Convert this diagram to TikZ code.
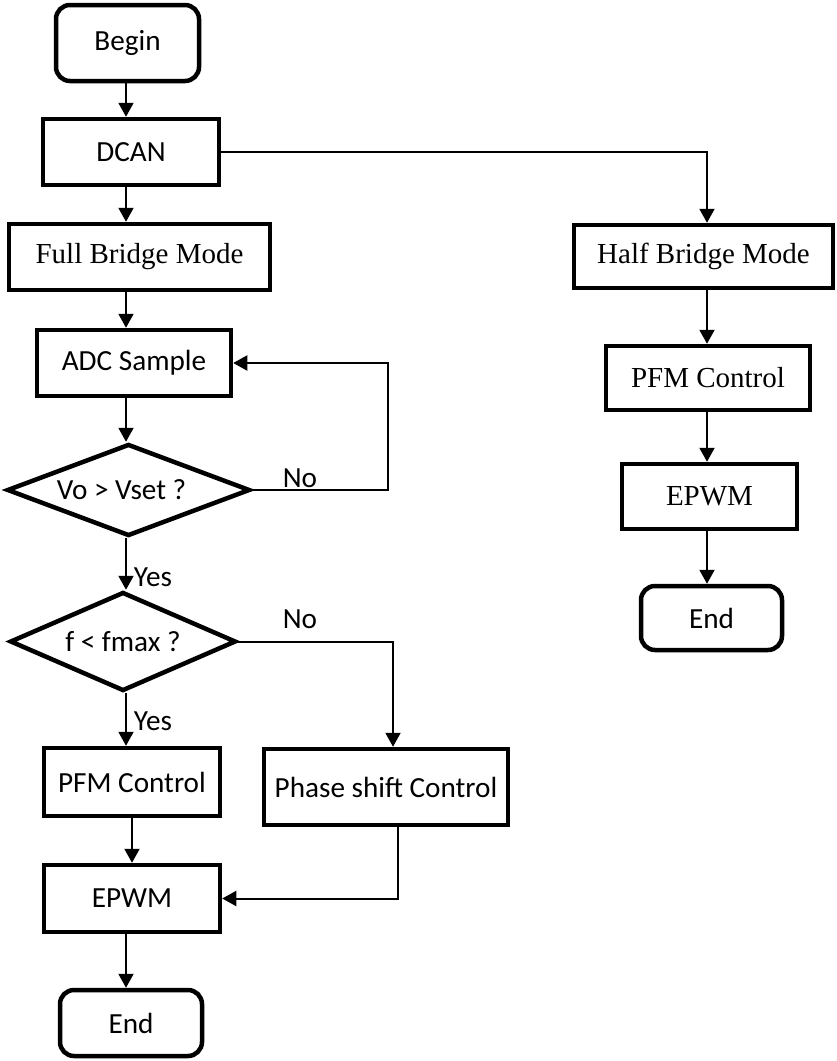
\documentclass[tikz,border=0pt]{standalone}
\usepackage{fontspec}
\setmainfont{Carlito}
\newfontfamily\timesf{Liberation Serif}
\usetikzlibrary{arrows.meta,shapes.geometric}
\begin{document}
\begin{tikzpicture}[x=1pt,y=-1pt,
  box/.style={draw,line width=4.5pt,rectangle,inner sep=0pt,font=\fontsize{29.2}{31}\selectfont},
  tbox/.style={box,font=\timesf\fontsize{29}{31}\selectfont},
  term/.style={box,rounded corners=14pt},
  dec/.style={draw,line width=4.5pt,diamond,inner sep=0pt,font=\fontsize{29.2}{31}\selectfont},
  conn/.style={line width=2pt,-{Triangle[length=14pt,width=15pt]}},
  lbl/.style={font=\fontsize{29.2}{31}\selectfont,inner sep=0pt}]
\useasboundingbox (0,0) rectangle (836,1061);
% left column
\node[term,minimum width=143,minimum height=76] (begin) at (127.5,43) {Begin};
\node[box,minimum width=176,minimum height=66] (dcan) at (131,152) {DCAN};
\node[tbox,minimum width=261,minimum height=66] (fb) at (139.5,257) {Full Bridge Mode};
\node[box,minimum width=194,minimum height=66] (adc) at (134,363) {ADC Sample};
\node[dec,aspect=2.57,minimum width=243,minimum height=92] (d1) at (128.5,490) {\hspace*{-14pt}Vo > Vset ?};
\node[dec,aspect=2.23,minimum width=226,minimum height=99] (d2) at (123,641.5) {f < fmax ?};
\node[box,minimum width=176,minimum height=68] (pfm) at (132,782) {PFM Control};
\node[box,minimum width=244,minimum height=76] (ps) at (386,787) {Phase shift Control};
\node[box,minimum width=176,minimum height=67] (epwm) at (132,898.5) {EPWM};
\node[term,minimum width=142,minimum height=66] (end) at (131,1023) {End};
% right column
\node[tbox,minimum width=259,minimum height=63] (hb) at (703.5,256.5) {Half Bridge Mode};
\node[tbox,minimum width=204,minimum height=64] (pfm2) at (708,378) {PFM Control};
\node[tbox,minimum width=175,minimum height=65] (epwm2) at (709.5,496.5) {EPWM};
\node[term,minimum width=141,minimum height=64] (end2) at (711.5,618) {End};
% helper coordinates
\coordinate (col) at (126,0);
\coordinate (rcol) at (707,0);
\coordinate (lp) at (388,0);
\coordinate (nx) at (393,0);
\coordinate (px) at (398,0);
% connectors
\draw[conn] (begin.south -| col) -- (dcan.north -| col);
\draw[conn] (dcan.south -| col) -- (fb.north -| col);
\draw[conn] (fb.south -| col) -- (adc.north -| col);
\draw[conn] (adc.south -| col) -- (d1.north -| col);
\draw[conn] (d1.south -| col) -- (d2.north -| col);
\draw[conn] (d2.south -| col) -- (pfm.north -| col);
\draw[conn] (pfm.south) -- (epwm.north);
\draw[conn] (epwm.south -| col) -- (end.north -| col);
\draw[conn] (d1.east) -- (d1.east -| lp) |- (adc.east);
\draw[conn] (d2.east) -- (d2.east -| nx) -- (nx |- ps.north);
\draw[conn] (ps.south -| px) |- (epwm.east);
\draw[conn] (dcan.east) -- (dcan.east -| rcol) -- (rcol |- hb.north);
\draw[conn] (hb.south -| rcol) -- (pfm2.north -| rcol);
\draw[conn] (pfm2.south -| rcol) -- (epwm2.north -| rcol);
\draw[conn] (epwm2.south -| rcol) -- (end2.north -| rcol);
% labels
\node[lbl] (no1) at (300,478) {No};
\node[lbl] (no2) at (300,619) {No};
\node[lbl] (yes1) at (153,577) {Yes};
\node[lbl] (yes2) at (153,721) {Yes};
\end{tikzpicture}
\end{document}
